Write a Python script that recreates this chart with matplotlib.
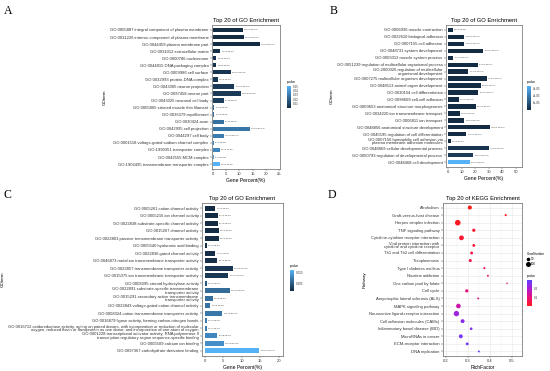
import numpy as np
import matplotlib
matplotlib.use("Agg")
import matplotlib.pyplot as plt
from matplotlib.colors import LinearSegmentedColormap, Normalize
from matplotlib.cm import ScalarMappable

plt.rcParams["font.family"] = ["Liberation Sans", "DejaVu Sans"]

# ---- panel A: cellular component ----
a_terms = [
    "GO:0005887 integral component of plasma membrane",
    "GO:0031226 intrinsic component of plasma membrane",
    "GO:0044459 plasma membrane part",
    "GO:0031012 extracellular matrix",
    "GO:0000786 nucleosome",
    "GO:0044815 DNA packaging complex",
    "GO:0009986 cell surface",
    "GO:0032993 protein-DNA complex",
    "GO:0043005 neuron projection",
    "GO:0097458 neuron part",
    "GO:0043025 neuronal cell body",
    "GO:0005865 striated muscle thin filament",
    "GO:0036379 myofilament",
    "GO:0030424 axon",
    "GO:0042995 cell projection",
    "GO:0044297 cell body",
    "GO:0001518 voltage-gated sodium channel complex",
    "GO:1990351 transporter complex",
    "GO:0042555 MCM complex",
    "GO:1902495 transmembrane transporter complex",
]
a_pct = [11.2, 11.6, 17.9, 2.7, 1.1, 1.1, 6.6, 1.7, 8.1, 10.6,
         3.9, 0.4, 0.4, 3.9, 14.0, 4.1, 0.3, 2.5, 0.2, 2.5]
a_pval = [0.0005, 0.0006, 0.0008, 0.002, 0.003, 0.003, 0.004, 0.005, 0.006, 0.006,
          0.008, 0.025, 0.025, 0.026, 0.028, 0.030, 0.033, 0.034, 0.042, 0.050]
a_count = [280, 287, 446, 67, 28, 28, 164, 42, 202, 264,
           97, 10, 10, 97, 348, 102, 8, 62, 5, 62]

# ---- panel B: biological process ----
b_terms = [
    "GO:0006936 muscle contraction",
    "GO:0022610 biological adhesion",
    "GO:0007155 cell adhesion",
    "GO:0048731 system development",
    "GO:0003012 muscle system process",
    "GO:0051239 regulation of multicellular organismal process",
    "GO:2000026 regulation of multicellular\norganismal development",
    "GO:0007275 multicellular organism development",
    "GO:0048513 animal organ development",
    "GO:0030154 cell differentiation",
    "GO:0098609 cell-cell adhesion",
    "GO:0009653 anatomical structure morphogenesis",
    "GO:0034220 ion transmembrane transport",
    "GO:0006811 ion transport",
    "GO:0048856 anatomical structure development",
    "GO:0045595 regulation of cell differentiation",
    "GO:0007156 homophilic cell adhesion via\nplasma membrane adhesion molecules",
    "GO:0048869 cellular developmental process",
    "GO:0050793 regulation of developmental process",
    "GO:0048468 cell development",
]
b_pct = [3.5, 12.0, 12.0, 26.0, 4.0, 22.0, 15.0, 28.6, 24.0, 22.3,
         8.0, 20.5, 8.5, 12.0, 30.6, 13.5, 2.0, 30.0, 18.5, 16.0]
b_pval = [1e-9, 2e-10, 2e-10, 1e-12, 3e-9, 5e-11, 1e-9, 1e-12, 2e-11, 4e-11,
          2e-8, 5e-10, 1e-8, 3e-8, 1e-12, 1e-7, 2e-7, 2e-6, 4e-6, 3.3e-5]
b_count = [88, 298, 298, 651, 100, 548, 374, 713, 598, 556,
           200, 511, 212, 298, 763, 337, 50, 748, 461, 399]

# ---- panel C: molecular function ----
c_terms = [
    "GO:0005261 cation channel activity",
    "GO:0005216 ion channel activity",
    "GO:0022838 substrate-specific channel activity",
    "GO:0015267 channel activity",
    "GO:0022803 passive transmembrane transporter activity",
    "GO:0005540 hyaluronic acid binding",
    "GO:0022836 gated channel activity",
    "GO:0046873 metal ion transmembrane transporter activity",
    "GO:0022857 transmembrane transporter activity",
    "GO:0015075 ion transmembrane transporter activity",
    "GO:0008395 steroid hydroxylase activity",
    "GO:0022891 substrate-specific transmembrane\ntransporter activity",
    "GO:0015291 secondary active transmembrane\ntransporter activity",
    "GO:0022843 voltage-gated cation channel activity",
    "GO:0008324 cation transmembrane transporter activity",
    "GO:0016879 ligase activity, forming carbon-nitrogen bonds",
    "GO:0016712 oxidoreductase activity, acting on paired donors, with incorporation or reduction of molecular\n"
    "oxygen, reduced flavin or flavoprotein as one donor, and incorporation of one atom of oxygen",
    "GO:0001228 transcriptional activator activity, RNA polymerase II\n"
    "transcription regulatory region sequence-specific binding",
    "GO:0005509 calcium ion binding",
    "GO:0097367 carbohydrate derivative binding",
]
c_pct = [2.8, 3.5, 3.5, 3.7, 3.7, 0.5, 2.8, 3.4, 7.5, 6.3,
         0.5, 6.7, 2.1, 1.4, 4.6, 0.5, 0.5, 3.3, 5.1, 14.7]
c_pval = [0.0014, 0.0014, 0.0015, 0.0015, 0.0015, 0.0016, 0.0017, 0.0018, 0.0022, 0.0024,
          0.0045, 0.0060, 0.0062, 0.0064, 0.0068, 0.0070, 0.0072, 0.0080, 0.0085, 0.0110]
c_count = [70, 87, 87, 92, 92, 12, 70, 85, 187, 157,
           12, 167, 52, 35, 115, 12, 12, 82, 127, 366]

# ---- panel D: KEGG ----
d_terms = [
    "Alcoholism", "Graft-versus-host disease", "Herpes simplex infection",
    "TNF signaling pathway", "Cytokine-cytokine receptor interaction",
    "Viral protein interaction with\ncytokine and cytokine receptor",
    "Th1 and Th2 cell differentiation", "Toxoplasmosis", "Type I diabetes mellitus",
    "Nicotine addiction", "One carbon pool by folate", "Cell cycle",
    "Amyotrophic lateral sclerosis (ALS)", "MAPK signaling pathway",
    "Neuroactive ligand-receptor interaction", "Cell adhesion molecules (CAMs)",
    "Inflammatory bowel disease (IBD)", "MicroRNAs in cancer",
    "ECM-receptor interaction", "DNA replication",
]
d_rich = [0.308, 0.471, 0.253, 0.326, 0.270, 0.326, 0.316, 0.310, 0.374, 0.390,
          0.477, 0.294, 0.346, 0.256, 0.247, 0.275, 0.314, 0.267, 0.296, 0.349]
d_genes = [65, 15, 125, 40, 90, 30, 30, 35, 15, 12,
           6, 40, 12, 85, 115, 60, 25, 60, 30, 12]
d_pval = [0.010, 0.020, 0.020, 0.030, 0.035, 0.040, 0.050, 0.060, 0.060, 0.070,
          0.090, 0.100, 0.120, 0.150, 0.220, 0.240, 0.250, 0.260, 0.270, 0.290]

W, H = 550, 371
fig = plt.figure(figsize=(W / 100, H / 100), dpi=100)


def px_axes(l, t, r, b):
    return fig.add_axes([l / W, 1 - b / H, (r - l) / W, (b - t) / H])


bar_cmap = LinearSegmentedColormap.from_list("gg", ["#132B43", "#56B1F7"])
dot_cmap = LinearSegmentedColormap.from_list("rb", ["#ff1a1a", "#e8107a", "#b01ad0", "#6040ff"])
edge = "#7f7f7f"


def style(ax):
    for s in ax.spines.values():
        s.set_color(edge)
        s.set_linewidth(0.6)
    ax.tick_params(length=1.5, width=0.3, pad=1, labelsize=3.0, colors="#333333")


def colorbar(cmap, vmin, vmax, box, ticks, labels):
    cax = px_axes(*box)
    sm = ScalarMappable(norm=Normalize(vmin, vmax), cmap=cmap)
    cb = fig.colorbar(sm, cax=cax)
    cb.outline.set_visible(False)
    cb.set_ticks(ticks)
    cb.set_ticklabels(labels)
    cax.tick_params(length=0, labelsize=2.2, pad=1.5, colors="#333333")
    cax.text(0, 1.08, "pvalue", transform=cax.transAxes, fontsize=2.2, va="bottom", ha="left")


def bar_panel(box, terms, pct, pval, count, xlim, xticks, cbox, cticks, clabels):
    ax = px_axes(*box)
    n = len(terms)
    y = np.arange(n)[::-1]
    norm = Normalize(min(pval), max(pval))
    ax.barh(y, pct, height=0.62, color=bar_cmap(norm(np.array(pval))))
    for yi, v, p, c in zip(y, pct, pval, count):
        ax.text(v + (xlim[1] - xlim[0]) * 0.02, yi, f"{c} ({p:.1e})", fontsize=1.6,
                va="center", ha="left", color="#333333")
    ax.set_yticks(y)
    ax.set_yticklabels(terms, linespacing=0.85)
    ax.set_ylim(-0.7, n - 0.3)
    ax.set_xlim(*xlim)
    ax.set_xticks(xticks)
    ax.set_xlabel("Gene Percent(%)", fontsize=3.6, labelpad=1)
    ax.set_ylabel("GOterm", fontsize=3.2, labelpad=2)
    ax.set_title("Top 20 of GO Enrichment", fontsize=4.2, pad=2)
    style(ax)
    colorbar(bar_cmap, min(pval), max(pval), cbox, cticks, clabels)
    return ax


bar_panel((212, 25, 280, 169), a_terms, a_pct, a_pval, a_count, (-0.5, 25.5), [0, 5, 10, 15, 20, 25],
          (287, 86, 291, 108), [0.01, 0.02, 0.03, 0.04, 0.05], ["0.01", "0.02", "0.03", "0.04", "0.05"])
bar_panel((446, 25, 522, 167), b_terms, b_pct, b_pval, b_count, (-1.5, 54.5), [0, 10, 20, 30, 40, 50],
          (527, 86, 531, 110), [1e-5, 2e-5, 3e-5], ["1e-05", "2e-05", "3e-05"])
bar_panel((202, 203, 283, 356), c_terms, c_pct, c_pval, c_count, (-0.8, 21.2), [0, 5, 10, 15, 20],
          (290, 270, 294, 291), [0.005, 0.010], ["0.005", "0.010"])

# ---- KEGG dot plot ----
ax = px_axes(443, 203, 522, 356)
n = len(d_terms)
y = np.arange(n)[::-1]
g = np.array(d_genes, dtype=float)
gmin, gmax = g.min(), g.max()


def dot_size(v):
    return 1.2 + 15.0 * (v - gmin) / (gmax - gmin)


dnorm = Normalize(min(d_pval), max(d_pval))
ax.scatter(d_rich, y, s=dot_size(g), c=d_pval, cmap=dot_cmap, norm=dnorm, linewidths=0, zorder=3)
ax.set_yticks(y)
ax.set_yticklabels(d_terms, linespacing=0.85)
ax.set_ylim(-0.6, n - 0.4)
ax.set_xlim(0.186, 0.545)
ax.set_xticks([0.2, 0.3, 0.4, 0.5])
ax.set_xticks([0.25, 0.35, 0.45], minor=True)
ax.grid(True, which="major", color="#e6e6e6", linewidth=0.4)
ax.grid(True, which="minor", axis="x", color="#f0f0f0", linewidth=0.3)
ax.tick_params(which="minor", length=0)
ax.set_axisbelow(True)
ax.set_xlabel("RichFactor", fontsize=3.6, labelpad=1)
ax.set_ylabel("Pathway", fontsize=3.2, labelpad=2)
ax.set_title("Top 20 of KEGG Enrichment", fontsize=4.2, pad=2)
style(ax)
colorbar(dot_cmap, min(d_pval), max(d_pval), (527, 280, 532, 306), [0.1, 0.2], ["0.1", "0.2"])

handles = [plt.scatter([], [], s=dot_size(v), color="black", linewidths=0) for v in (50, 100)]
leg = fig.legend(handles, ["50", "100"], loc="upper left", bbox_to_anchor=(525 / W, 1 - 250 / H),
                 frameon=False, fontsize=2.2, title="GeneNumber", title_fontsize=2.2,
                 handletextpad=0.3, labelspacing=0.4, borderpad=0, handlelength=1)
leg._legend_box.align = "left"

# panel letters
for letter, (x, yy) in {"A": (4, 11), "B": (330, 11), "C": (3, 195), "D": (328, 195)}.items():
    fig.text(x / W, 1 - yy / H, letter, fontsize=8.5, family="Liberation Serif", va="center")

fig.savefig("out.png", dpi=100)
